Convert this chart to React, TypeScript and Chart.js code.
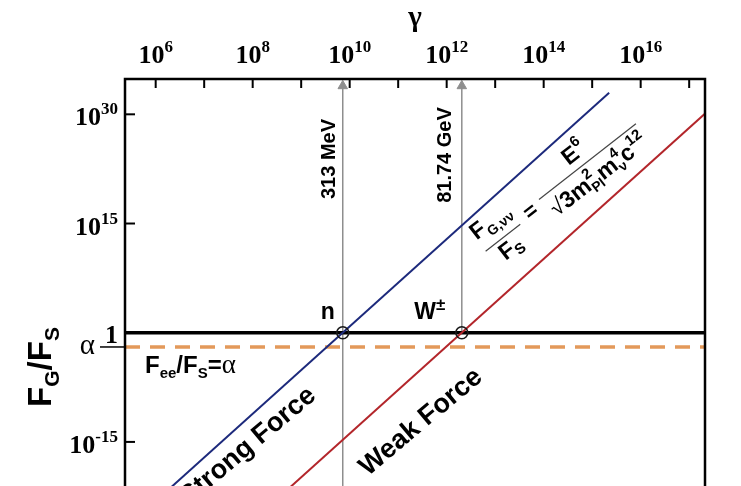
import React, { useEffect, useRef } from "react";
import { Chart, registerables } from "chart.js";

Chart.register(...registerables);

const SANS = '"Liberation Sans", Arial, sans-serif';
const SERIF = '"Liberation Serif", "Times New Roman", serif';

// ---- data ----
const gammaRange = [2.33e5, 2.12e17];
const ratioRange = [1.05e-23, 7.1e34];
const gammaTicks = [1e6, 1e7, 1e8, 1e9, 1e10, 1e11, 1e12, 1e13, 1e14, 1e15, 1e16, 1e17];
const ALPHA = 0.011;
const ratioTicks = [1e-15, ALPHA, 1, 1e15, 1e30];
const innerRatioTicks = [1e-15, 1e15, 1e30];

// strong force line  F_G/F_S ∝ E^6
const strongGamma = [1e6, 2.24e15];
const strongRatio = [7.3e-24, 9.2e32];
// weak force line
const weakGamma = [1e8, 3.16e17];
const weakRatio = [1.38e-26, 1.38e31];
// crossing points (n and W±)
const crossGamma = [7.2e9, 2.05e12];
const crossRatio = [1, 1];
const crossEnergy = ["313 MeV", "81.74 GeV"];
const arrowBottom = [1.05e-23, 1];
const arrowTop = 7.9e33;

const BLUE = "#1d2a7c";
const RED = "#b3262b";
const ORANGE = "#e3995a";
const GRAY = "#8e8e8e";

type Seg = { t: string; s: number; dy?: number; f?: string; w?: string; sub?: Seg };
const fontOf = (s: Seg) => `${s.w ?? "bold"} ${s.s}px ${s.f ?? SANS}`;

function segWidth(ctx: CanvasRenderingContext2D, s: Seg) {
  ctx.font = fontOf(s);
  let w = ctx.measureText(s.t).width;
  if (s.sub) {
    ctx.font = fontOf(s.sub);
    w = Math.max(w, ctx.measureText(s.sub.t).width);
  }
  return w;
}

function drawRich(ctx: CanvasRenderingContext2D, segs: Seg[], x: number, y: number, align = "center") {
  const total = segs.reduce((a, s) => a + segWidth(ctx, s), 0);
  let cx = align === "center" ? x - total / 2 : align === "right" ? x - total : x;
  ctx.textAlign = "left";
  ctx.textBaseline = "alphabetic";
  for (const s of segs) {
    const w = segWidth(ctx, s);
    ctx.font = fontOf(s);
    ctx.fillText(s.t, cx, y + (s.dy ?? 0));
    if (s.sub) {
      ctx.font = fontOf(s.sub);
      ctx.fillText(s.sub.t, cx, y + (s.sub.dy ?? 0));
    }
    cx += w;
  }
}

function rotated(ctx: CanvasRenderingContext2D, cx: number, cy: number, deg: number, fn: () => void) {
  ctx.save();
  ctx.translate(cx, cy);
  ctx.rotate((-deg * Math.PI) / 180);
  fn();
  ctx.restore();
}

function seg(ctx: CanvasRenderingContext2D, x1: number, y1: number, x2: number, y2: number) {
  ctx.beginPath();
  ctx.moveTo(x1, y1);
  ctx.lineTo(x2, y2);
  ctx.stroke();
}

const powSegs = (label: string): Seg[] => {
  const [base, exp] = label.split("^");
  const segs: Seg[] = [{ t: base, s: 26, f: SERIF }];
  if (exp) segs.push({ t: exp, s: 17, f: SERIF, dy: -11 });
  return segs;
};

// tick labels of both axes, drawn with real superscripts at the scales' tick positions
const tickLabelPlugin = {
  id: "tickLabels",
  afterDraw(chart: any) {
    const { ctx, chartArea: a } = chart;
    ctx.save();
    ctx.fillStyle = "#000";
    for (const t of chart.scales.x.ticks) {
      if (!t.label) continue;
      drawRich(ctx, powSegs(t.label), chart.scales.x.getPixelForValue(t.value), a.top - 16, "center");
    }
    for (const t of chart.scales.y.ticks) {
      if (!t.label) continue;
      const py = chart.scales.y.getPixelForValue(t.value);
      if (t.value === ALPHA) {
        drawRich(ctx, [{ t: t.label, s: 29, w: "normal", f: SERIF }], a.left - 30, py + 7, "right");
      } else if (t.value === 1) {
        drawRich(ctx, [{ t: t.label, s: 26, f: SERIF }], a.left - 7, py + 10, "right");
      } else {
        drawRich(ctx, powSegs(t.label), a.left - 7, py + 11, "right");
      }
    }
    ctx.restore();
  },
};

const decorPlugin = {
  id: "decor",
  afterDraw(chart: any) {
    const { ctx, chartArea: a } = chart;
    const xs = chart.scales.x;
    const ys = chart.scales.y;
    ctx.save();
    ctx.strokeStyle = "#000";
    ctx.fillStyle = "#000";
    // inward ticks
    ctx.lineWidth = 2;
    for (const v of gammaTicks) {
      const px = xs.getPixelForValue(v);
      seg(ctx, px, a.top, px, a.top + 9);
    }
    for (const v of innerRatioTicks) {
      const py = ys.getPixelForValue(v);
      seg(ctx, a.left, py, a.left + 10, py);
    }
    ctx.lineWidth = 1.5;
    const pa = ys.getPixelForValue(ALPHA);
    seg(ctx, a.left - 25, pa, a.left, pa);
    // frame
    ctx.lineWidth = 2.5;
    ctx.strokeRect(a.left, a.top, a.right - a.left, a.bottom - a.top);

    // y title
    rotated(ctx, 44, 367, 90, () =>
      drawRich(ctx, [
        { t: "F", s: 33 },
        { t: "G", s: 21, dy: 8 },
        { t: "/F", s: 33 },
        { t: "S", s: 21, dy: 8 },
      ], 0, 7)
    );

    const p1 = ys.getPixelForValue(1);
    const pxn = xs.getPixelForValue(crossGamma[0]);
    const pxw = xs.getPixelForValue(crossGamma[1]);

    // energies along arrows
    rotated(ctx, pxn - 15, 159, 90, () => drawRich(ctx, [{ t: crossEnergy[0], s: 20 }], 0, 7));
    rotated(ctx, pxw - 18, 155, 90, () => drawRich(ctx, [{ t: crossEnergy[1], s: 20 }], 0, 7));

    // crossing labels
    drawRich(ctx, [{ t: "n", s: 23 }], pxn - 15, p1 - 14);
    drawRich(ctx, [{ t: "W", s: 23 }, { t: "±", s: 17, dy: -9 }], pxw - 32, p1 - 14);

    // Fee/Fs = alpha
    drawRich(ctx, [
      { t: "F", s: 24 },
      { t: "ee", s: 15, dy: 5 },
      { t: "/F", s: 24 },
      { t: "S", s: 15, dy: 5 },
      { t: "=", s: 24 },
      { t: "α", s: 27, w: "normal", f: SERIF },
    ], a.left + 20, 373, "left");

    // force labels
    rotated(ctx, 247, 445, 40, () => drawRich(ctx, [{ t: "Strong Force", s: 27 }], 0, 9));
    rotated(ctx, 420, 421, 40, () => drawRich(ctx, [{ t: "Weak Force", s: 27 }], 0, 9));

    // formula
    rotated(ctx, 532, 210, 38, () => {
      ctx.strokeStyle = "#444";
      ctx.lineWidth = 1.2;
      drawRich(ctx, [{ t: "=", s: 22 }], -2, 7);
      drawRich(ctx, [{ t: "F", s: 23 }, { t: "G,νν", s: 14, dy: 6 }], -40, -10);
      seg(ctx, -62, 4, -18, 4);
      drawRich(ctx, [{ t: "F", s: 23 }, { t: "S", s: 15, dy: 4 }], -40, 24);
      seg(ctx, 12, -4, 135, -4);
      drawRich(ctx, [{ t: "E", s: 23 }, { t: "6", s: 15, dy: -11 }], 68, -12);
      drawRich(ctx, [
        { t: "√", s: 23, w: "normal" },
        { t: "3m", s: 23 },
        { t: "2", s: 15, dy: -11, sub: { t: "Pl", s: 14, dy: 5 } },
        { t: "m", s: 23 },
        { t: "4", s: 15, dy: -11, sub: { t: "ν", s: 14, dy: 5 } },
        { t: "c", s: 23 },
        { t: "12", s: 15, dy: -11 },
      ], 74, 21);
    });
    ctx.restore();
  },
};

export default function App() {
  const ref = useRef<HTMLCanvasElement | null>(null);
  useEffect(() => {
    if (!ref.current) return;
    const xy = (xv: number[], yv: number[]) => xv.map((x, i) => ({ x, y: yv[i] }));
    const chart = new Chart(ref.current, {
      type: "line",
      data: {
        datasets: [
          {
            label: "crossings",
            data: xy(crossGamma, crossRatio),
            showLine: false,
            pointRadius: 6,
            pointBorderWidth: 1.6,
            pointBorderColor: "#1a1a1a",
            pointBackgroundColor: "rgba(0,0,0,0)",
          },
          { label: "strong", data: xy(strongGamma, strongRatio), borderColor: BLUE, borderWidth: 2, pointRadius: 0 },
          { label: "weak", data: xy(weakGamma, weakRatio), borderColor: RED, borderWidth: 2, pointRadius: 0 },
          { label: "unity", data: xy(gammaRange, [1, 1]), borderColor: "#000", borderWidth: 3.5, pointRadius: 0 },
          {
            label: "alpha",
            data: xy(gammaRange, [ALPHA, ALPHA]),
            borderColor: ORANGE,
            borderWidth: 3.5,
            borderDash: [15, 10],
            pointRadius: 0,
          },
          ...crossGamma.map((g, i) => ({
            label: "arrow" + i,
            data: [
              { x: g, y: arrowBottom[i] },
              { x: g, y: arrowTop },
            ],
            borderColor: GRAY,
            borderWidth: 1.5,
            pointRadius: [0, 5.5],
            pointStyle: "triangle",
            pointBackgroundColor: GRAY,
            pointBorderColor: GRAY,
            pointBorderWidth: 1,
          })),
        ],
      } as any,
      options: {
        animation: false,
        responsive: false,
        devicePixelRatio: 1,
        layout: { padding: { left: 0, top: 0, right: 36, bottom: 20 } },
        plugins: { legend: { display: false }, tooltip: { enabled: false } },
        scales: {
          x: {
            type: "logarithmic",
            position: "top",
            min: gammaRange[0],
            max: gammaRange[1],
            afterBuildTicks: (s: any) => {
              s.ticks = gammaTicks.map((value) => ({ value }));
            },
            afterFit: (s: any) => {
              s.height = 79;
            },
            grid: { display: false, drawTicks: false },
            border: { display: false },
            ticks: {
              display: false,
              autoSkip: false,
              maxRotation: 0,
              callback: (v: any) => {
                const e = Math.round(Math.log10(Number(v)));
                return e % 2 === 0 ? "10^" + e : "";
              },
            },
            title: {
              display: true,
              text: "γ",
              color: "#000",
              font: { family: SERIF, size: 29, weight: "bold" },
              padding: { top: 1, bottom: 0 },
            },
          },
          y: {
            type: "logarithmic",
            min: ratioRange[0],
            max: ratioRange[1],
            afterBuildTicks: (s: any) => {
              s.ticks = ratioTicks.map((value) => ({ value }));
            },
            afterFit: (s: any) => {
              s.width = 125;
            },
            grid: { display: false, drawTicks: false },
            border: { display: false },
            ticks: {
              display: false,
              autoSkip: false,
              callback: (v: any) => {
                const n = Number(v);
                if (n === 1) return "1";
                if (n === ALPHA) return "α";
                return "10^" + Math.round(Math.log10(n));
              },
            },
          },
        },
      } as any,
      plugins: [decorPlugin, tickLabelPlugin],
    });
    return () => chart.destroy();
  }, []);

  return (
    <div
      style={{
        position: "fixed",
        left: 0,
        top: 0,
        width: 741,
        height: 486,
        overflow: "hidden",
        background: "#fff",
      }}
    >
      <canvas ref={ref} width={741} height={520} style={{ display: "block" }} />
    </div>
  );
}
